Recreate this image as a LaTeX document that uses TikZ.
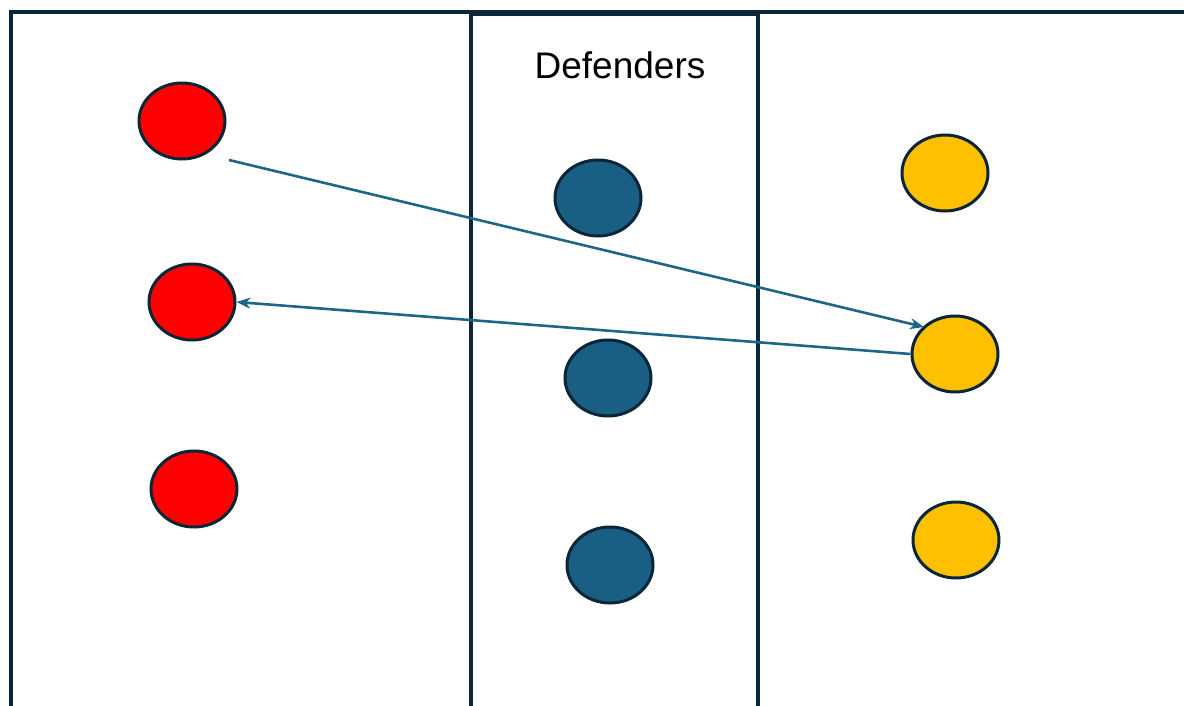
\documentclass[tikz,border=0pt]{standalone}
\usepackage{fontspec}
\setmainfont{Liberation Sans}
\usetikzlibrary{shapes.geometric,arrows.meta}
\definecolor{frameC}{HTML}{0B2638}
\definecolor{defC}{HTML}{195E83}
\definecolor{arrC}{HTML}{1E6688}
\definecolor{redC}{HTML}{FF0000}
\definecolor{yelC}{HTML}{FFC000}
\tikzset{
  player/.style={ellipse, draw=frameC, line width=3pt, minimum width=86pt, minimum height=76pt, inner sep=0pt},
  attacker/.style={player, fill=redC},
  defender/.style={player, fill=defC},
  receiver/.style={player, fill=yelC},
  pass/.style={draw=arrC, line width=2.6pt, -{Stealth[length=14pt,width=11pt]}},
  zone/.style={draw=frameC, line width=3.4pt}
}
\begin{document}
\begin{tikzpicture}[x=1pt,y=-1pt]
\useasboundingbox (0,0) rectangle (1184,705);
\draw[zone] (11,710) -- (11,12) -- (1190,12);
\draw[zone] (471,710) -- (471,14) -- (758,14) -- (758,710);
\node[font=\fontsize{37}{40}\selectfont] (title) at (620,65) {Defenders};
\node[attacker] (r1) at (182,121) {};
\node[attacker] (r2) at (192,302) {};
\node[attacker] (r3) at (194,489) {};
\node[defender] (b1) at (598,198) {};
\node[defender] (b2) at (608,378) {};
\node[defender] (b3) at (610,565) {};
\node[receiver] (y1) at (945,173) {};
\node[receiver] (y2) at (955,354) {};
\node[receiver] (y3) at (956,540) {};
\coordinate (a1) at (229,160);
\coordinate (a1end) at (924,327);
\draw[pass] (a1) -- (a1end);
\draw[pass] (y2.west) -- (r2.east);
\end{tikzpicture}
\end{document}
